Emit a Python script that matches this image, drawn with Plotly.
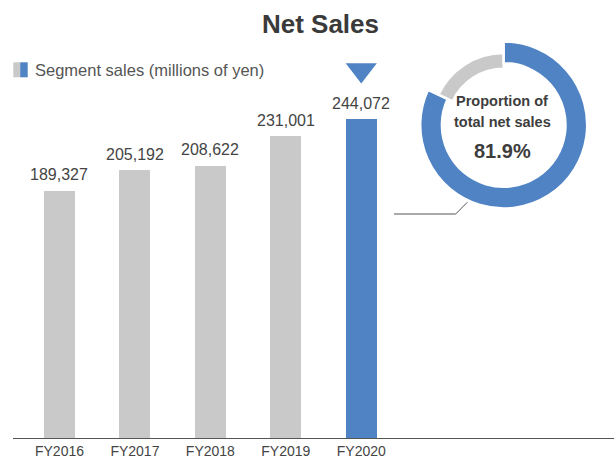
import plotly.graph_objects as go

# ---- data ----
categories = ["FY2016", "FY2017", "FY2018", "FY2019", "FY2020"]
sales = [189327, 205192, 208622, 231001, 244072]
bar_colors = ["#c8c9c8", "#c8c9c8", "#c8c9c8", "#c8c9c8", "#4f83c4"]
share_labels = ["Segment", "Other"]
share_values = [81.9, 18.1]
title_text = "Net Sales"
legend_text = "Segment sales (millions of yen)"
donut_text = ["Proportion of", "total net sales"]
donut_pct = "81.9%"

BLUE = "#4f83c4"
GRAY = "#c8c9c8"
TXT = "#444444"
FONT = "Liberation Sans, Arial, sans-serif"

# layout constants
W, H = 614, 462
ML, MR, MT, MB = 13, 0, 30, 24
PW, PH = W - ML - MR, H - MT - MB
Y_MAX = 312500


def px(xp):
    return (xp - ML) / PW


def py(yp):
    return (H - MB - yp) / PH


fig = go.Figure()

fig.add_trace(go.Bar(
    x=categories, y=sales, marker=dict(color=bar_colors, line=dict(width=0)),
    width=0.41, hoverinfo="x+y", showlegend=False,
))

# pointer triangle above the highlighted year
fig.add_trace(go.Scatter(
    x=[categories[-1]], y=[Y_MAX * 0.902], mode="markers",
    marker=dict(symbol="triangle-down", size=27, color=BLUE, line=dict(width=0)),
    hoverinfo="skip", showlegend=False,
))

# value labels
for c, v in zip(categories, sales):
    fig.add_annotation(x=c, y=v, text=f"{v:,}", showarrow=False, yanchor="middle", xanchor="center",
                       yshift=16, font=dict(family=FONT, size=16, color=TXT))

# donut: gray (thinner) ring under blue ring
cx, cy = 503.7, 125.0
Rb, Rg = 83.5, 72.0
fig.add_trace(go.Pie(
    labels=share_labels, values=share_values, sort=False, direction="clockwise",
    rotation=0, hole=0.78, textinfo="none", hoverinfo="skip", showlegend=False,
    marker=dict(colors=["rgba(0,0,0,0)", GRAY],
                line=dict(color=["rgba(0,0,0,0)", "white"], width=2.5)),
    domain=dict(x=[px(cx - Rg), px(cx + Rg)], y=[py(cy + Rg), py(cy - Rg)]),
))
fig.add_trace(go.Pie(
    labels=share_labels, values=share_values, sort=False, direction="clockwise",
    rotation=0, hole=0.74, textinfo="none", hoverinfo="label+percent", showlegend=False,
    marker=dict(colors=[BLUE, "rgba(0,0,0,0)"],
                line=dict(color=["white", "rgba(0,0,0,0)"], width=2.5)),
    domain=dict(x=[px(cx - Rb), px(cx + Rb)], y=[py(cy + Rb), py(cy - Rb)]),
))

for txt, yy, sz in [(donut_text[0], 100.5, 14.5), (donut_text[1], 122, 14.5), (donut_pct, 150.5, 20)]:
    fig.add_annotation(xref="paper", yref="paper", x=px(502), y=py(yy), text=f"<b>{txt}</b>",
                       xanchor="center", yanchor="middle", showarrow=False,
                       font=dict(family=FONT, size=sz, color="#3d3d3d"))

# connector line from donut
fig.add_shape(type="path", xref="paper", yref="paper",
              path=f"M {px(394)} {py(214)} L {px(455.7)} {py(214)} L {px(467.3)} {py(202.3)}",
              line=dict(color="#555555", width=1))

# legend (manual, two-colour swatch)
fig.add_shape(type="rect", xref="paper", yref="paper", x0=px(13.3), x1=px(20.2),
              y0=py(77.3), y1=py(62.3), fillcolor=GRAY, line=dict(width=0))
fig.add_shape(type="rect", xref="paper", yref="paper", x0=px(20.2), x1=px(27.7),
              y0=py(77.3), y1=py(62.3), fillcolor=BLUE, line=dict(width=0))
fig.add_annotation(xref="paper", yref="paper", x=px(32.5), y=py(69.5), xanchor="left", yanchor="middle",
                   text=legend_text, showarrow=False, font=dict(family=FONT, size=16.5, color="#555555"))

fig.update_layout(
    width=W, height=H,
    margin=dict(l=ML, r=MR, t=MT, b=MB),
    paper_bgcolor="white", plot_bgcolor="white",
    title=dict(text=f"<b>{title_text}</b>", x=px(320.5), xref="paper", xanchor="center",
               y=1 - 24 / H, yanchor="middle", font=dict(family=FONT, size=26, color="#3a3a3a")),
    xaxis=dict(type="category", range=[-0.616, 7.35], showline=True, linecolor="#555555",
               linewidth=1, ticks="", showgrid=False, zeroline=False,
               tickfont=dict(family=FONT, size=14, color=TXT), fixedrange=True),
    yaxis=dict(range=[0, Y_MAX], visible=False, showgrid=False, zeroline=False, fixedrange=True),
    bargap=0, hovermode="closest",
)

fig.write_html("out.html", config={"displayModeBar": False},
               post_script="document.body.style.margin='0';document.body.style.overflow='hidden';")
